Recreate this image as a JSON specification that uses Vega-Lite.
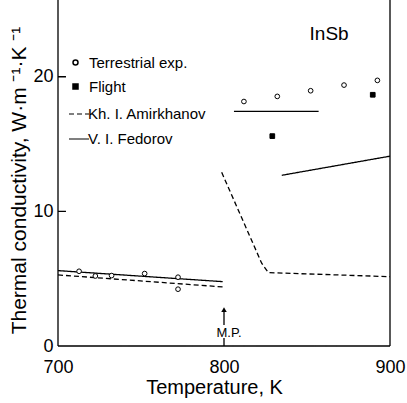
{
  "$schema": "https://vega.github.io/schema/vega-lite/v6.json",
  "width": 332,
  "height": 346,
  "autosize": "none",
  "padding": {"left": 58, "top": 0, "right": 17, "bottom": 57},
  "config": {
    "view": {"stroke": null},
    "font": "Liberation Sans",
    "axis": {"domain": false, "ticks": false, "labelColor": "black", "titleColor": "black", "grid": false, "titleFontWeight": "normal", "labelFont": "Liberation Sans", "titleFont": "Liberation Sans", "labelFlush": false},
    "legend": {"labelFont": "Liberation Sans", "labelColor": "black"}
  },
  "datasets": {
    "points": [
      {"T": 712.7, "k": 5.55, "type": "Terrestrial exp."},
      {"T": 722.5, "k": 5.2, "type": "Terrestrial exp."},
      {"T": 732.3, "k": 5.23, "type": "Terrestrial exp."},
      {"T": 752.2, "k": 5.38, "type": "Terrestrial exp."},
      {"T": 772.3, "k": 5.11, "type": "Terrestrial exp."},
      {"T": 772.3, "k": 4.22, "type": "Terrestrial exp."},
      {"T": 812.0, "k": 18.16, "type": "Terrestrial exp."},
      {"T": 832.1, "k": 18.54, "type": "Terrestrial exp."},
      {"T": 852.2, "k": 18.96, "type": "Terrestrial exp."},
      {"T": 872.3, "k": 19.38, "type": "Terrestrial exp."},
      {"T": 892.4, "k": 19.73, "type": "Terrestrial exp."},
      {"T": 829.1, "k": 15.59, "type": "Flight"},
      {"T": 889.6, "k": 18.66, "type": "Flight"}
    ],
    "lines": [
      {"T": 700, "k": 5.6, "series": "V. I. Fedorov", "seg": "F1"},
      {"T": 799.2, "k": 4.78, "series": "V. I. Fedorov", "seg": "F1"},
      {"T": 806, "k": 17.42, "series": "V. I. Fedorov", "seg": "F2"},
      {"T": 857, "k": 17.42, "series": "V. I. Fedorov", "seg": "F2"},
      {"T": 834.8, "k": 12.68, "series": "V. I. Fedorov", "seg": "F3"},
      {"T": 900, "k": 14.1, "series": "V. I. Fedorov", "seg": "F3"},
      {"T": 700, "k": 5.28, "series": "Kh. I. Amirkhanov", "seg": "A1"},
      {"T": 799.2, "k": 4.39, "series": "Kh. I. Amirkhanov", "seg": "A1"},
      {"T": 798.6, "k": 12.9, "series": "Kh. I. Amirkhanov", "seg": "A2"},
      {"T": 822.7, "k": 6.15, "series": "Kh. I. Amirkhanov", "seg": "A2"},
      {"T": 826.7, "k": 5.45, "series": "Kh. I. Amirkhanov", "seg": "A2"},
      {"T": 900, "k": 5.15, "series": "Kh. I. Amirkhanov", "seg": "A2"},
      {"T": 700, "k": 0, "series": "frame", "seg": "left"},
      {"T": 700, "k": 25.7, "series": "frame", "seg": "left"},
      {"T": 700, "k": 0, "series": "frame", "seg": "bottom"},
      {"T": 900, "k": 0, "series": "frame", "seg": "bottom"},
      {"T": 900, "k": 0, "series": "frame", "seg": "right"},
      {"T": 900, "k": 25.7, "series": "frame", "seg": "right"},
      {"T": 700, "k": 10, "series": "frame", "seg": "tick10"},
      {"T": 704.8, "k": 10, "series": "frame", "seg": "tick10"},
      {"T": 700, "k": 20, "series": "frame", "seg": "tick20"},
      {"T": 704.8, "k": 20, "series": "frame", "seg": "tick20"},
      {"T": 800, "k": 0, "series": "frame", "seg": "tick800"},
      {"T": 800, "k": 0.6, "series": "frame", "seg": "tick800"}
    ]
  },
  "layer": [
    {
      "data": {"name": "lines"},
      "mark": {"type": "line", "color": "black", "strokeWidth": 1.3},
      "encoding": {
        "x": {"field": "T", "type": "quantitative", "scale": {"domain": [700, 900], "nice": false, "zero": false},
              "axis": {"values": [700, 800, 900], "labelFontSize": 18, "labelPadding": 12, "title": "Temperature,  K", "titleFontSize": 20, "titlePadding": 1, "titleX": 156}},
        "y": {"field": "k", "type": "quantitative", "scale": {"domain": [0, 25.7], "nice": false},
              "axis": {"values": [0, 10, 20], "labelFontSize": 18, "labelPadding": 5, "title": "Thermal conductivity,  W·m ⁻¹·K ⁻¹", "titleFontSize": 21, "titlePadding": 3, "titleY": 180}},
        "detail": {"field": "seg", "type": "nominal"},
        "strokeDash": {"field": "series", "type": "nominal",
          "scale": {"domain": ["Kh. I. Amirkhanov", "V. I. Fedorov", "frame"], "range": [[5, 3], [1, 0], [1, 0]]},
          "legend": {"title": null, "values": ["Kh. I. Amirkhanov", "V. I. Fedorov"], "orient": "none", "legendX": 10, "legendY": 103, "symbolType": "stroke", "symbolSize": 400, "symbolStrokeColor": "black", "symbolStrokeWidth": 1.2, "labelFontSize": 15, "labelOffset": -2, "rowPadding": 6, "padding": 0}}
      }
    },
    {
      "data": {"name": "points"},
      "mark": {"type": "point", "filled": true, "stroke": "black", "strokeWidth": 1, "size": 22, "opacity": 1},
      "encoding": {
        "x": {"field": "T", "type": "quantitative"},
        "y": {"field": "k", "type": "quantitative"},
        "shape": {"field": "type", "type": "nominal", "scale": {"domain": ["Terrestrial exp.", "Flight"], "range": ["circle", "square"]},
          "legend": {"title": null, "orient": "none", "legendX": 10, "legendY": 55, "symbolSize": 25, "labelFontSize": 15, "labelOffset": 6, "rowPadding": 8, "padding": 0,
            "encode": {"symbols": {"update": {"stroke": {"value": "black"}, "strokeWidth": {"value": 1}}}}}},
        "fill": {"field": "type", "type": "nominal", "scale": {"domain": ["Terrestrial exp.", "Flight"], "range": ["white", "black"]},
          "legend": {"title": null, "orient": "none", "legendX": 10, "legendY": 55, "symbolSize": 25, "labelFontSize": 15, "labelOffset": 6, "rowPadding": 8, "padding": 0,
            "encode": {"symbols": {"update": {"stroke": {"value": "black"}, "strokeWidth": {"value": 1}}}}}}
      }
    },
    {
      "data": {"values": [{"label": "arrow"}]},
      "mark": {"type": "rule", "color": "black", "strokeWidth": 1.3},
      "encoding": {"x": {"datum": 800, "type": "quantitative"}, "y": {"datum": 1.56, "type": "quantitative"}, "y2": {"datum": 2.7}}
    },
    {
      "data": {"values": [{"label": "arrowhead"}]},
      "mark": {"type": "point", "shape": "triangle-up", "filled": true, "color": "black", "size": 30, "opacity": 1},
      "encoding": {"x": {"datum": 800, "type": "quantitative"}, "y": {"datum": 2.7, "type": "quantitative"}}
    },
    {
      "data": {"values": [{"label": "M.P."}]},
      "mark": {"type": "text", "fontSize": 13, "align": "center", "baseline": "alphabetic", "color": "black", "font": "Liberation Sans"},
      "encoding": {"x": {"datum": 803, "type": "quantitative"}, "y": {"datum": 0.67, "type": "quantitative"}, "text": {"field": "label"}}
    },
    {
      "data": {"values": [{"label": "InSb"}]},
      "mark": {"type": "text", "fontSize": 19, "align": "center", "baseline": "alphabetic", "color": "black", "font": "Liberation Sans"},
      "encoding": {"x": {"datum": 863.3, "type": "quantitative"}, "y": {"datum": 22.75, "type": "quantitative"}, "text": {"field": "label"}}
    }
  ]
}
